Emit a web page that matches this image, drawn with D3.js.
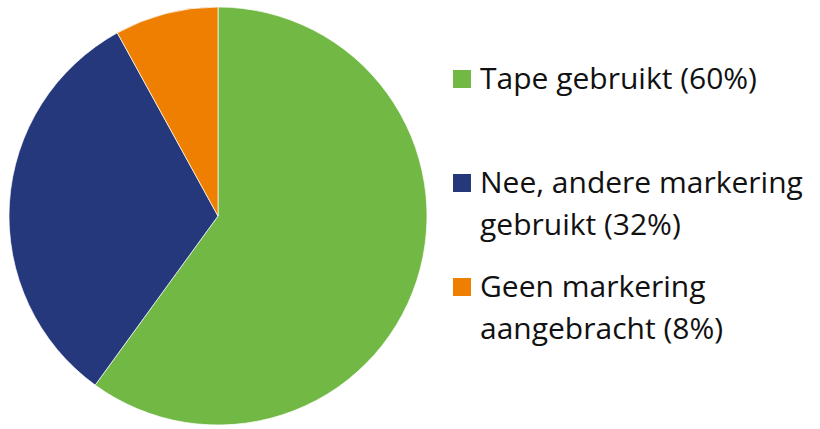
<!DOCTYPE html>
<html>
<head>
<meta charset="utf-8">
<script src="https://cdn.jsdelivr.net/npm/d3@7"></script>
<style>
  body { margin: 0; background: #fff; }
  svg { display: block; }
</style>
</head>
<body>
<div class="render"></div>
<script>
// chart data
var categories = ["Tape gebruikt", "Nee, andere markering gebruikt", "Geen markering aangebracht"];
var values = [60, 32, 8];
var colours = ["#71b844", "#26387c", "#ee7f00"];
// legend lines (wrapped as in the original)
var legend_lines = [
    ["Tape gebruikt (60%)"],
    ["Nee, andere markering", "gebruikt (32%)"],
    ["Geen markering", "aangebracht (8%)"]
];

var width = 820, height = 429;
var cx = 218, cy = 216, radius = 209;

var svg = d3.select(".render").append("svg")
    .attr("width", width)
    .attr("height", height);

var data = categories.map(function (c, i) {
    return { name: c, value: values[i], colour: colours[i] };
});

var pie = d3.pie()
    .sort(null)
    .value(function (d) { return d.value; });

var arc = d3.arc()
    .innerRadius(0)
    .outerRadius(radius);

var g = svg.append("g")
    .attr("transform", "translate(" + cx + "," + cy + ")");

g.selectAll("path")
    .data(pie(data))
    .enter().append("path")
      .attr("d", arc)
      .attr("fill", function (d) { return d.data.colour; })
      .attr("stroke", "#ffffff")
      .attr("stroke-width", 0.7);

// legend
var legend_y = [89, 193, 297];   // baseline of first line of each entry
var line_gap = 42;

var legend = svg.append("g").attr("class", "legend");
var items = legend.selectAll("g")
    .data(data)
    .enter().append("g")
      .attr("transform", function (d, i) { return "translate(0," + legend_y[i] + ")"; });

items.append("rect")
    .attr("x", 453)
    .attr("y", -19)
    .attr("width", 18)
    .attr("height", 18)
    .attr("fill", function (d) { return d.colour; });

items.each(function (d, i) {
    var t = d3.select(this).append("text")
        .attr("x", 480)
        .attr("y", 0)
        .attr("font-family", "'Open Sans', sans-serif")
        .attr("font-size", 30)
        .attr("fill", "#111");
    legend_lines[i].forEach(function (line, j) {
        t.append("tspan")
            .attr("x", 480)
            .attr("y", j * line_gap)
            .text(line);
    });
});
</script>
</body>
</html>
